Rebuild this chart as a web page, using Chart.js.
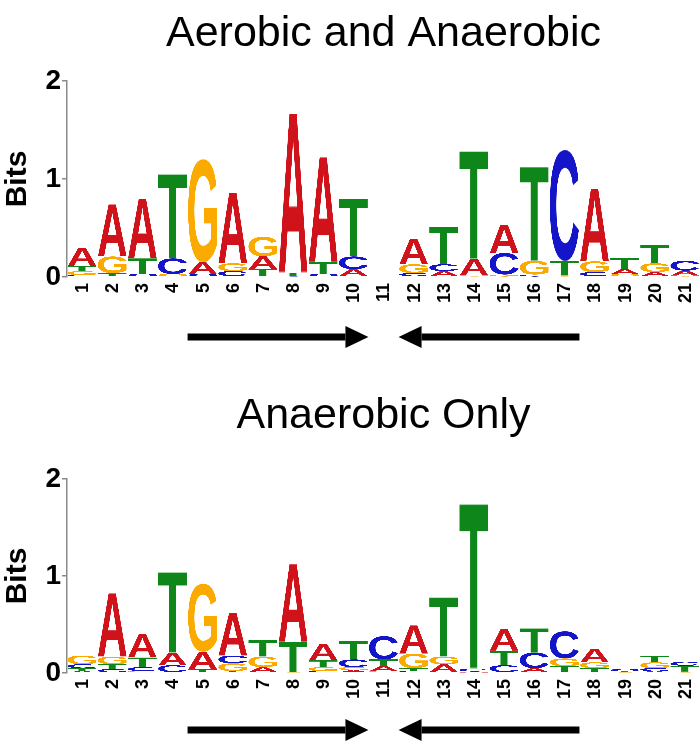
<!DOCTYPE html>
<html>
<head>
<meta charset="utf-8">
<script src="https://cdn.jsdelivr.net/npm/chart.js@4.4.1/dist/chart.umd.min.js"></script>
<style>
  body { margin: 0; background: #fff; }
  canvas { display: block; }
</style>
</head>
<body>
<canvas id="topLogo" width="700" height="372"></canvas>
<canvas id="bottomLogo" width="700" height="372"></canvas>
<script>
'use strict';

// positions along the motif
let positions = ['1', '2', '3', '4', '5', '6', '7', '8', '9', '10', '11',
  '12', '13', '14', '15', '16', '17', '18', '19', '20', '21'];

// letters per column, bottom -> top, and their heights in bits
let aeroLetters = ['CGTA', 'CTGA', 'GCTA', 'AGCT', 'TCAG', 'TCGA', 'CTAG', 'GCTA', 'GCTA', 'GACT', 'ACGT',
  'TCGA', 'GACT', 'CGAT', 'TGCA', 'ACGT', 'AGTC', 'TCGA', 'CGAT', 'CAGT', 'TGAC'];
let aeroBits = [
  [0.02, 0.04, 0.05, 0.19], [0.01, 0.03, 0.17, 0.53], [0.01, 0.02, 0.16, 0.61], [0.01, 0.02, 0.16, 0.86],
  [0.01, 0.02, 0.12, 1.05], [0.01, 0.05, 0.08, 0.72], [0.01, 0.07, 0.13, 0.2], [0.005, 0.01, 0.03, 1.62],
  [0.01, 0.02, 0.12, 1.07], [0.01, 0.07, 0.13, 0.59], [0, 0, 0, 0],
  [0.01, 0.03, 0.09, 0.26], [0.01, 0.05, 0.07, 0.38], [0.005, 0.01, 0.17, 1.1], [0.005, 0.02, 0.22, 0.29],
  [0.005, 0.02, 0.14, 0.96], [0.005, 0.01, 0.15, 1.13], [0.01, 0.04, 0.11, 0.74], [0.01, 0.02, 0.05, 0.11],
  [0.01, 0.04, 0.09, 0.19], [0.005, 0.01, 0.05, 0.1]
];

let anaeroLetters = ['ATCG', 'CTGA', 'GCTA', 'GCAT', 'CTAG', 'TGCA', 'CAGT', 'CGTA', 'CGTA', 'AGCT', 'GATC',
  'CTGA', 'CAGT', 'GACT', 'GCTA', 'GACT', 'ATGC', 'CTGA', 'AGTC', 'ACGT', 'AGTC'];
let anaeroBits = [
  [0.02, 0.03, 0.04, 0.09], [0.04, 0.05, 0.08, 0.65], [0.02, 0.04, 0.1, 0.24], [0.01, 0.07, 0.13, 0.83],
  [0.01, 0.03, 0.18, 0.7], [0.02, 0.08, 0.08, 0.44], [0.01, 0.05, 0.11, 0.17], [0.005, 0.005, 0.31, 0.8],
  [0.02, 0.04, 0.07, 0.17], [0.03, 0.03, 0.08, 0.19], [0.02, 0.05, 0.07, 0.24],
  [0.02, 0.03, 0.15, 0.29], [0.01, 0.08, 0.08, 0.61], [0.005, 0.01, 0.03, 1.7], [0.01, 0.07, 0.15, 0.22],
  [0.01, 0.04, 0.16, 0.25], [0.01, 0.06, 0.08, 0.28], [0.01, 0.04, 0.06, 0.14], [0.005, 0.005, 0.01, 0.02],
  [0.02, 0.03, 0.06, 0.07], [0.005, 0.01, 0.06, 0.04]
];

let yTicks = [0, 1, 2];
// arrows under the logo: [from position, to position, direction]
let arrowSpans = [[5, 10, 1], [12, 17, -1]];

let letterColors = { A: '#d0121a', C: '#1414c8', G: '#fbaa00', T: '#0e861a' };

Chart.defaults.font.family = "'Liberation Sans', Arial, sans-serif";

// pre-render each letter once, then stretch it into the bar box
let glyphs = {};
function getGlyph(letter) {
  if (glyphs[letter]) return glyphs[letter];
  let c = document.createElement('canvas');
  let g = c.getContext('2d');
  let font = "bold 200px 'Liberation Sans', Arial, sans-serif";
  g.font = font;
  let m = g.measureText(letter);
  let w = Math.ceil(m.actualBoundingBoxLeft + m.actualBoundingBoxRight);
  let h = Math.ceil(m.actualBoundingBoxAscent + m.actualBoundingBoxDescent);
  c.width = w + 4;
  c.height = h + 4;
  g.font = font;
  g.fillStyle = letterColors[letter];
  g.fillText(letter, 2 + m.actualBoundingBoxLeft, 2 + m.actualBoundingBoxAscent);
  glyphs[letter] = { canvas: c, w: w, h: h };
  return glyphs[letter];
}

let logoPlugin = {
  id: 'logoLetters',
  afterDatasetsDraw(chart) {
    let ctx = chart.ctx;
    chart.data.datasets.forEach((ds, i) => {
      let meta = chart.getDatasetMeta(i);
      meta.data.forEach((bar, j) => {
        let p = bar.getProps(['x', 'y', 'base', 'width'], true);
        let h = p.base - p.y;
        if (h < 0.3) return;
        let gl = getGlyph(ds.letters[j]);
        ctx.drawImage(gl.canvas, 2, 2, gl.w, gl.h, p.x - p.width / 2, p.y, p.width, h);
      });
    });
  }
};

// position numbers, turned to read bottom -> top, and the two arrows
let bottomPlugin = {
  id: 'bottomMarks',
  afterDraw(chart, args, opts) {
    let xs = chart.scales.x;
    let ctx = chart.ctx;
    let bottom = chart.chartArea.bottom;
    ctx.save();
    ctx.fillStyle = '#000';
    ctx.font = "bold 18px 'Liberation Sans', Arial, sans-serif";
    ctx.textAlign = 'right';
    ctx.textBaseline = 'middle';
    chart.data.labels.forEach((lab, i) => {
      ctx.save();
      ctx.translate(xs.getPixelForValue(i), bottom + 6);
      ctx.rotate(-Math.PI / 2);
      ctx.fillText(lab, 0, 1);
      ctx.restore();
    });

    let half = (xs.getPixelForValue(1) - xs.getPixelForValue(0)) / 2;
    let y = bottom + opts.arrowOffset;
    arrowSpans.forEach(s => {
      let a = xs.getPixelForValue(s[0] - 1) - half;
      let b = xs.getPixelForValue(s[1] - 1) + half;
      let tip = s[2] > 0 ? b : a;
      let tail = s[2] > 0 ? a : b;
      let headLen = 23 * s[2];
      ctx.fillRect(Math.min(tail, tip - headLen), y - 3.5, Math.abs(tip - headLen - tail), 7);
      ctx.beginPath();
      ctx.moveTo(tip, y);
      ctx.lineTo(tip - headLen, y - 11);
      ctx.lineTo(tip - headLen, y + 11);
      ctx.closePath();
      ctx.fill();
    });
    ctx.restore();
  }
};

function makeLogo(id, title, letters, bits, look) {
  let datasets = [];
  for (let r = 0; r < 4; r++) {
    datasets.push({
      label: 'rank' + r,
      data: bits.map(b => b[r]),
      letters: letters.map(s => s[r]),
      backgroundColor: 'rgba(0,0,0,0)',
      borderWidth: 0,
      barPercentage: 0.96,
      categoryPercentage: 1
    });
  }
  return new Chart(document.getElementById(id), {
    type: 'bar',
    data: { labels: positions, datasets: datasets },
    plugins: [logoPlugin, bottomPlugin],
    options: {
      responsive: false,
      animation: false,
      devicePixelRatio: 1,
      layout: { padding: { top: look.padTop, left: 0, right: 0, bottom: look.padBottom } },
      plugins: {
        legend: { display: false },
        tooltip: { enabled: false },
        title: {
          display: true,
          fullSize: false,
          text: title,
          color: '#000',
          font: { size: 43, weight: 'normal' },
          padding: { top: 0, bottom: look.titleGap }
        },
        bottomMarks: { arrowOffset: look.arrowOffset }
      },
      scales: {
        x: {
          stacked: true,
          grid: { display: false },
          border: { display: false },
          ticks: { display: false },
          afterFit(scale) {
            scale.height = 45;
            scale.paddingLeft = 0;
            scale.paddingRight = 0;
          }
        },
        y: {
          stacked: true,
          min: yTicks[0],
          max: yTicks[yTicks.length - 1],
          grid: { display: true, drawOnChartArea: false, drawTicks: true, tickLength: 5, color: '#8a8a8a', lineWidth: 1.5 },
          border: { display: true, color: '#8a8a8a', width: 1.5 },
          ticks: {
            stepSize: 1,
            color: '#000',
            font: { size: 28, weight: 'bold' },
            padding: 1
          },
          title: {
            display: true,
            text: 'Bits',
            color: '#000',
            font: { size: 30, weight: 'bold' },
            padding: { top: 0, bottom: 0 }
          },
          afterFit(scale) {
            scale.width = 67;
            scale.paddingTop = 0;
            scale.paddingBottom = 0;
          }
        }
      }
    }
  });
}

makeLogo('topLogo', 'Aerobic and Anaerobic', aeroLetters, aeroBits,
  { padTop: 8, titleGap: 21.4, padBottom: 50, arrowOffset: 60 });
makeLogo('bottomLogo', 'Anaerobic Only', anaeroLetters, anaeroBits,
  { padTop: 18, titleGap: 37.4, padBottom: 26, arrowOffset: 57 });
</script>
</body>
</html>
